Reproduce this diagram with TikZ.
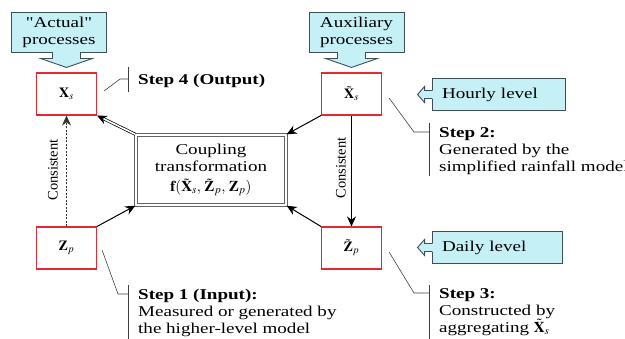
\documentclass[tikz,border=0pt]{standalone}
\usepackage{mathptmx}
\usepackage{fontspec}
\newfontfamily\diagfont{Liberation Serif}[FakeStretch=1.27]
\newfontfamily\plainserif{Liberation Serif}
\usetikzlibrary{arrows.meta,calc}

\definecolor{boxcyan}{RGB}{196,240,246}
\definecolor{boxedge}{RGB}{60,80,85}
\definecolor{boxred}{RGB}{228,40,52}
\definecolor{couplegray}{RGB}{100,100,100}
\newcommand{\txtfont}{\diagfont\fontsize{15}{17}\selectfont}

\begin{document}
\begin{tikzpicture}[x=1pt, y=-1pt,
    proc/.style={draw=boxedge, fill=boxcyan, line width=0.9pt, minimum width=95pt, minimum height=40pt, inner sep=0pt, align=center, font=\txtfont},
    level/.style={draw=boxedge, fill=boxcyan, line width=0.9pt, minimum height=32pt, inner xsep=10pt, inner ysep=0pt, align=left, font=\txtfont},
    var/.style={draw=boxred, fill=white, line width=1.1pt, minimum width=60pt, minimum height=42pt, inner sep=0pt, font=\fontsize{14}{16}\selectfont},
    couple/.style={draw=couplegray, double, double distance=1.6pt, line width=1.4pt, minimum width=150pt, minimum height=70pt, align=center, font=\txtfont},
    steptext/.style={anchor=base west, align=left, inner sep=0pt, font=\txtfont},
    consistent/.style={rotate=90, inner sep=0pt, font=\plainserif\fontsize{14.5}{16}\selectfont},
    leader/.style={draw=black!75, line width=0.6pt},
    link/.style={-{Stealth[length=10pt, width=9pt]}, line width=1pt}]

    \useasboundingbox (0,0) rectangle (625,338);

    % process boxes on top
    \node[proc] (actual) at (59,32) {"Actual"\\processes};
    \node[proc] (aux) at (356.5,32) {Auxiliary\\processes};

    % series
    \node[var] (Xs) at (66.5,94) {$\mathbf{X}_s$};
    \node[var] (Xt) at (351.5,94) {$\tilde{\mathbf{X}}_s$};
    \node[var] (Zp) at (66.5,248) {$\mathbf{Z}_p$};
    \node[var] (Zt) at (351.5,248) {$\tilde{\mathbf{Z}}_p$};

    \node[couple] (couple) at (211,170) {Coupling\\transformation\\[3pt]$\mathbf{f}(\tilde{\mathbf{X}}_s,\, \tilde{\mathbf{Z}}_p,\, \mathbf{Z}_p)$};

    \node[level, text width=113pt] (hourly) at (498.5,94.5) {Hourly level};
    \node[level, text width=110pt] (daily) at (497,247.5) {Daily level};

    % pointers of the callouts
    \foreach \b/\r in {actual/Xs, aux/Xt} {
        \begin{scope}[shift={(\b.south -| \r.north)}]
            \fill[boxcyan] (-14,-1.5) -- (-14,6) -- (-26,6) -- (0,15) -- (26,6) -- (14,6) -- (14,-1.5) -- cycle;
            \draw[boxedge, line width=0.9pt] (-14,-0.4) -- (-14,6) -- (-26,6) -- (0,15) -- (26,6) -- (14,6) -- (14,-0.4);
        \end{scope}
    }
    \foreach \b in {hourly, daily} {
        \begin{scope}[shift={(\b.west)}]
            \fill[boxcyan] (1.5,-4) -- (-7,-4) -- (-7,-8) -- (-14,0) -- (-7,8) -- (-7,4) -- (1.5,4) -- cycle;
            \draw[boxedge, line width=0.9pt] (0.4,-4) -- (-7,-4) -- (-7,-8) -- (-14,0) -- (-7,8) -- (-7,4) -- (0.4,4);
        \end{scope}
    }

    % links
    \draw[link, black!80, line width=0.7pt, dash pattern=on 2pt off 1.5pt] (Zp) -- (Xs);
    \draw[link, line width=0.8pt] (Xt) -- (Zt);
    \draw[link, double, double distance=1.6pt, line width=0.7pt] (couple.north west) -- (Xs.south east);
    \draw[link] (Xt.south west) -- (couple.north east);
    \draw[link] (Zp.north east) -- (couple.south west);
    \draw[link] (Zt.north west) -- (couple.south east);

    \node[consistent] (c1) at (53,170) {Consistent};
    \node[consistent] (c2) at (341,168) {Consistent};

    % steps (base = last line)
    \node[steptext] (s4) at (138,84) {\textbf{Step 4 (Output)}};
    \node[steptext] (s2) at (439,171) {\textbf{Step 2:}\\Generated by the\\simplified rainfall model};
    \node[steptext] (s3) at (439,332) {\textbf{Step 3:}\\Constructed by\\aggregating $\tilde{\mathbf{X}}_s$};
    \node[steptext] (s1) at (138,333) {\textbf{Step 1 (Input):}\\Measured or generated by\\the higher-level model};

    \draw[leader] ($(Xs.east)+(7,-3)$) -- (120,79) -- (128,79);
    \draw[leader] (128,67) -- (128,92);
    \draw[leader] ($(Xt.east)+(7,4)$) -- (414,132) -- (429,132);
    \draw[leader] (429,123) -- (429,176);
    \draw[leader] ($(Zt.east)+(7,4)$) -- (414,293) -- (429,293);
    \draw[leader] (429,285) -- (429,340);
    \draw[leader] ($(Zp.east)+(5,2)$) -- (118,294) -- (128,294);
    \draw[leader] (128,285) -- (128,340);
\end{tikzpicture}
\end{document}
